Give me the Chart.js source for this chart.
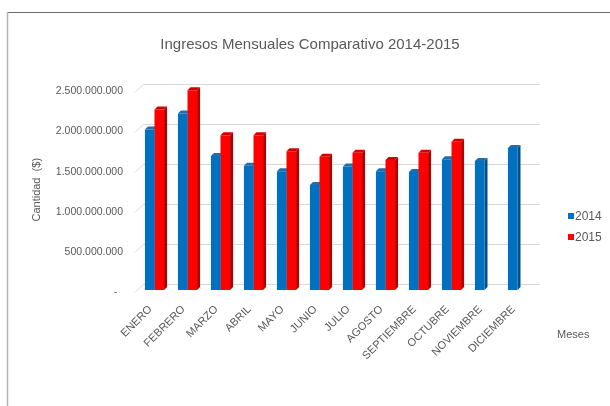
<!DOCTYPE html>
<html>
<head>
<meta charset="utf-8">
<script src="https://cdn.jsdelivr.net/npm/chart.js@4"></script>
<style>
  html, body { margin: 0; padding: 0; background: #fff; }
  #wrap { position: relative; width: 610px; height: 406px; }
</style>
</head>
<body>
<div id="wrap"><canvas id="c"></canvas></div>
<script>
const categories = ['ENERO','FEBRERO','MARZO','ABRIL','MAYO','JUNIO','JULIO','AGOSTO','SEPTIEMBRE','OCTUBRE','NOVIEMBRE','DICIEMBRE'];
const ingresos2014 = [2000000000, 2200000000, 1670000000, 1550000000, 1480000000, 1310000000, 1540000000, 1480000000, 1470000000, 1630000000, 1610000000, 1770000000];
const ingresos2015 = [2250000000, 2490000000, 1930000000, 1930000000, 1730000000, 1660000000, 1710000000, 1620000000, 1710000000, 1850000000, null, null];
const seriesNames = ['2014', '2015'];
const yTicks = [0, 500000000, 1000000000, 1500000000, 2000000000, 2500000000];
const chartTitle = 'Ingresos Mensuales Comparativo 2014-2015';
const yTitle = 'Cantidad  ($)';
const xTitle = 'Meses';

const FONT = "'Liberation Sans', Arial, sans-serif";
const TXT = '#595959';
const faceColors = ['#0070C0', '#FF0000'];
const sideColors = ['#004f8a', '#b00000'];
const topColors  = ['#1f6fae', '#d40000'];

function fmt(v) {
  if (v === 0) return '-  ';
  return String(Math.round(v)).replace(/\B(?=(\d{3})+(?!\d))/g, '.');
}

const DEPTH = 3;

const threeD = {
  id: 'threeD',
  beforeDatasetsDraw(chart) {
    const ctx = chart.ctx;
    const ys = chart.scales.y;
    const area = chart.chartArea;
    ctx.save();
    ctx.strokeStyle = '#d9d9d9';
    ctx.lineWidth = 1;
    yTicks.forEach(v => {
      const yb = ys.getPixelForValue(v);
      const front = Math.round(yb + 2) + 0.5;
      const back = Math.round(yb - 6) + 0.5;
      ctx.beginPath();
      ctx.moveTo(area.left - 3, front);
      ctx.lineTo(area.left + 5, back);
      ctx.lineTo(area.right + 6, back);
      ctx.stroke();
    });
    chart.data.datasets.forEach((ds, di) => {
      const meta = chart.getDatasetMeta(di);
      meta.data.forEach((bar, i) => {
        if (ds.data[i] == null) return;
        const p = bar.getProps(['x', 'y', 'base', 'width'], true);
        const l = p.x - p.width / 2, r = p.x + p.width / 2;
        ctx.fillStyle = sideColors[di];
        ctx.beginPath();
        ctx.moveTo(r, p.y);
        ctx.lineTo(r + DEPTH, p.y - DEPTH);
        ctx.lineTo(r + DEPTH, p.base - DEPTH);
        ctx.lineTo(r, p.base);
        ctx.closePath();
        ctx.fill();
        ctx.fillStyle = topColors[di];
        ctx.beginPath();
        ctx.moveTo(l, p.y);
        ctx.lineTo(l + DEPTH, p.y - DEPTH);
        ctx.lineTo(r + DEPTH, p.y - DEPTH);
        ctx.lineTo(r, p.y);
        ctx.closePath();
        ctx.fill();
      });
    });
    ctx.restore();
  },
  afterDraw(chart) {
    const ctx = chart.ctx;
    ctx.save();
    // frame
    ctx.strokeStyle = '#6b6b6b';
    ctx.lineWidth = 1.2;
    ctx.beginPath();
    ctx.moveTo(7, 12.5); ctx.lineTo(610, 12.5);
    ctx.stroke();
    ctx.strokeStyle = '#b5b5b5';
    ctx.lineWidth = 1.5;
    ctx.beginPath();
    ctx.moveTo(7.5, 12); ctx.lineTo(7.5, 406);
    ctx.stroke();
    // title
    ctx.fillStyle = TXT;
    ctx.font = '15px ' + FONT;
    ctx.textAlign = 'center';
    ctx.textBaseline = 'middle';
    ctx.fillText(chartTitle, 310, 45);
    // legend
    ctx.font = '12px ' + FONT;
    ctx.textBaseline = 'middle';
    ctx.textAlign = 'left';
    const ly = [216, 237];
    chart.data.datasets.forEach((ds, di) => {
      ctx.fillStyle = faceColors[di];
      ctx.fillRect(568, ly[di] - 3, 6, 6);
      ctx.fillStyle = TXT;
      ctx.fillText(ds.label, 575, ly[di] + 0.5);
    });
    // x axis title
    ctx.font = '11px ' + FONT;
    ctx.fillText(xTitle, 557, 335);
    ctx.restore();
  }
};

new Chart(document.getElementById('c'), {
  type: 'bar',
  data: {
    labels: categories,
    datasets: [
      { label: seriesNames[0], data: ingresos2014, backgroundColor: faceColors[0], borderWidth: 0 },
      { label: seriesNames[1], data: ingresos2015, backgroundColor: faceColors[1], borderWidth: 0 }
    ]
  },
  plugins: [threeD],
  options: {
    responsive: true,
    maintainAspectRatio: false,
    animation: false,
    devicePixelRatio: 1,
    layout: { padding: { left: 8, right: 76, top: 89.5, bottom: 0 } },
    datasets: { bar: { barPercentage: 1, categoryPercentage: 0.58 } },
    plugins: {
      legend: { display: false },
      tooltip: { enabled: false },
      title: { display: false }
    },
    scales: {
      x: {
        grid: { display: false, drawTicks: false },
        border: { display: false },
        ticks: {
          color: TXT,
          font: { family: FONT, size: 11 },
          autoSkip: false,
          minRotation: 45,
          maxRotation: 45,
          padding: 13,
          labelOffset: -4
        },
        afterFit(scale) { scale.height = 406 - 290; }
      },
      y: {
        min: 0,
        max: 2500000000,
        grid: { display: false, drawTicks: false },
        border: { display: false },
        afterBuildTicks(scale) { scale.ticks = yTicks.map(v => ({ value: v })); },
        afterFit(scale) { scale.width = 138 - 8; },
        ticks: {
          color: TXT,
          font: { family: FONT, size: 10.5 },
          padding: 15,
          labelOffset: 2,
          callback: (v) => fmt(v)
        },
        title: {
          display: true,
          text: yTitle,
          color: TXT,
          font: { family: FONT, size: 11 },
          padding: { top: 22, bottom: 0 }
        }
      }
    }
  }
});
</script>
</body>
</html>
